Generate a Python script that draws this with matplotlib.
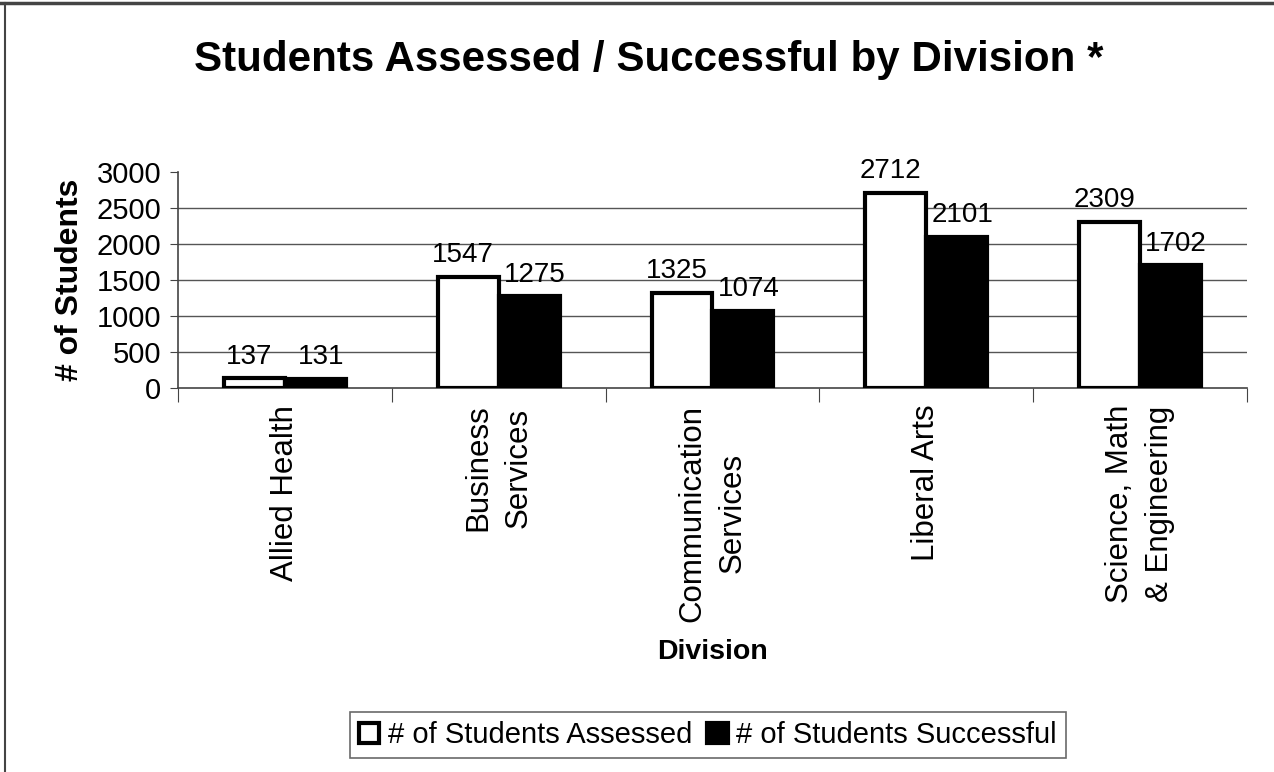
import matplotlib
matplotlib.use("Agg")
import matplotlib.pyplot as plt
import numpy as np
from matplotlib.lines import Line2D

plt.rcParams['font.family'] = ['Liberation Sans', 'DejaVu Sans']

# Données du graphique
divisions = ['Allied Health', 'Business\nServices', 'Communication\nServices',
             'Liberal Arts', 'Science, Math\n& Engineering']
assessed = [137, 1547, 1325, 2712, 2309]
successful = [131, 1275, 1074, 2101, 1702]
y_ticks = [0, 500, 1000, 1500, 2000, 2500, 3000]

fig = plt.figure(figsize=(12.74, 7.72), dpi=100)
ax = fig.add_axes([0.1397, 0.4974, 0.8391, 0.2798])

x = np.arange(len(divisions))
w = 0.285
b1 = ax.bar(x - w / 2, assessed, w, color='white', edgecolor='black', linewidth=3, zorder=3,
            label='# of Students Assessed')
b2 = ax.bar(x + w / 2, successful, w, color='black', edgecolor='black', linewidth=3, zorder=3,
            label='# of Students Successful')

# Étiquettes des valeurs
for bars, dx in ((b1, -4), (b2, 4)):
    for rect in bars:
        h = rect.get_height()
        ax.annotate(str(int(h)), (rect.get_x() + rect.get_width() / 2, h),
                    xytext=(dx, 6), textcoords='offset points', ha='center', va='bottom',
                    fontsize=20, zorder=4)

ax.set_xlim(-0.5, len(divisions) - 0.5)
ax.set_ylim(0, 3000)
ax.set_yticks(y_ticks)
ax.set_yticklabels([str(v) for v in y_ticks], fontsize=21)
for v in y_ticks[1:-1]:
    ax.axhline(v, color='#555555', linewidth=1, zorder=1)

ax.set_xticks(np.arange(len(divisions) + 1) - 0.5)
ax.set_xticklabels([])
ax.set_xticks(x, minor=True)
ax.set_xticklabels(divisions, minor=True, rotation=90, fontsize=22.5, va='top', ha='center',
                   multialignment='center', linespacing=1.45)
ax.tick_params(axis='x', which='major', length=10, direction='out', color='#444444')
ax.tick_params(axis='x', which='minor', length=0, pad=12)
ax.tick_params(axis='y', length=6, direction='out', color='#444444', pad=6)

for s in ('top', 'right'):
    ax.spines[s].set_visible(False)
for s in ('left', 'bottom'):
    ax.spines[s].set_color('#444444')
    ax.spines[s].set_linewidth(1.2)

ax.set_ylabel('# of Students', fontsize=23, fontweight='bold', labelpad=8)
ax.set_xlabel('Division', fontsize=20.5, fontweight='bold')
ax.xaxis.set_label_coords(0.5, -1.222)
ax.xaxis.label.set_va('center')

fig.text(649 / 1274, 1 - 60 / 772, 'Students Assessed / Successful by Division *', fontsize=30.3,
         fontweight='bold', ha='center', va='center')

leg = fig.legend(handles=[b1, b2], loc='center', ncol=2, fontsize=21, frameon=True,
                 fancybox=False, edgecolor='#444444', handlelength=0.7, handleheight=0.7,
                 handletextpad=0.3, columnspacing=0.5, borderpad=0.3,
                 bbox_to_anchor=(708 / 1274, 1 - 735 / 772))
leg.get_frame().set_linewidth(1.2)

# Bordure de la page
fig.add_artist(Line2D([0, 1], [0.996, 0.996], color='#444444', linewidth=2.5))
fig.add_artist(Line2D([0.004, 0.004], [0, 0.996], color='#444444', linewidth=1.5))

fig.savefig('out.png', dpi=100)
